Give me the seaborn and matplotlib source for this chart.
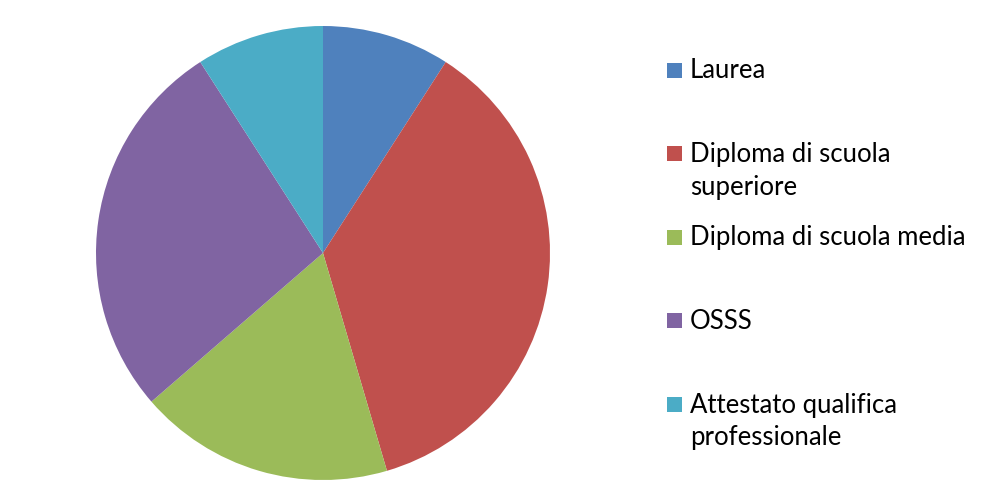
import matplotlib.pyplot as plt
import seaborn as sns
from matplotlib.patches import Rectangle

# Data
labels = ["Laurea", "Diploma di scuola\nsuperiore", "Diploma di scuola media",
          "OSSS", "Attestato qualifica\nprofessionale"]
values = [1, 4, 2, 3, 1]
colors = ["#4F81BD", "#C0504D", "#9BBB59", "#8064A2", "#4BACC6"]

sns.set_style("white")
plt.rcParams['font.family'] = ['Lato', 'DejaVu Sans']

fig = plt.figure(figsize=(9.87, 5.04), dpi=100)
W, H = 987, 504

# pie axes: centre (323, 253), radius 227 px
cx, cy, r = 323, 253, 227
ax = fig.add_axes([(cx - r) / W, (H - cy - r) / H, 2 * r / W, 2 * r / H])
ax.pie(values, colors=colors, startangle=90, counterclock=False,
       wedgeprops=dict(edgecolor='none'))
ax.set_aspect('auto')
ax.set_xlim(-1, 1)
ax.set_ylim(-1, 1)
ax.axis('off')

# legend on the right, one entry every ~83.5 px
for i, (lab, col) in enumerate(zip(labels, colors)):
    y = 70 + i * 83.5
    fig.add_artist(Rectangle((667 / W, (H - y - 7.5) / H), 15 / W, 15 / H,
                             transform=fig.transFigure, color=col, lw=0))
    for k, line in enumerate(lab.split("\n")):
        fig.text(690 / W, (H - y - 8.5 - k * 33) / H, line, fontsize=18.5,
                 va='baseline', ha='left', color='black',
                 transform=fig.transFigure)

fig.savefig("out.png", dpi=100)
